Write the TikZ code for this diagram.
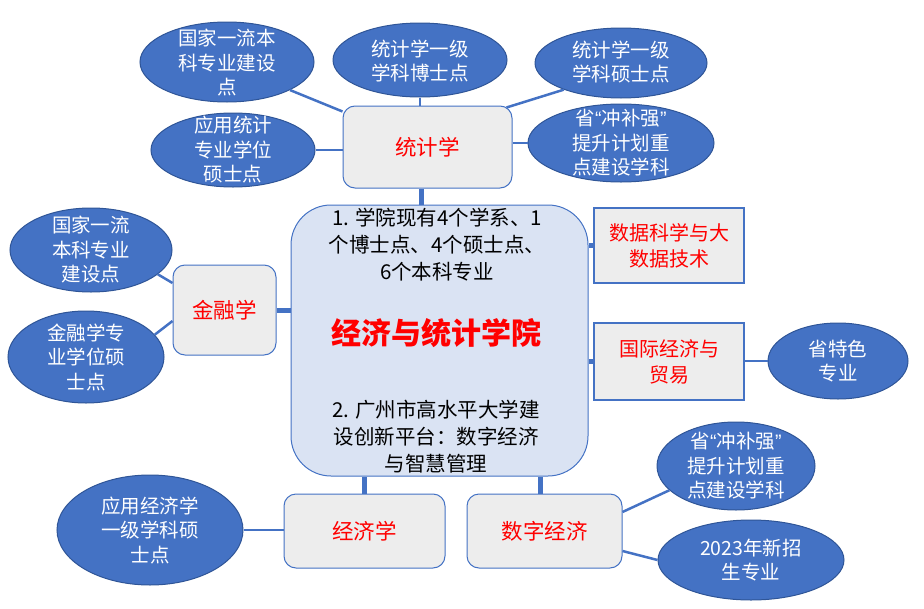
\documentclass[tikz,border=0pt]{standalone}
\usepackage{fontspec}
\setmainfont{Noto Sans CJK SC}
\newfontfamily\qf{Liberation Sans}
\usetikzlibrary{shapes.geometric,calc}
\definecolor{ublue}{HTML}{4472C4}
\definecolor{ublued}{HTML}{2F5597}
\definecolor{boxgray}{HTML}{EDEDED}
\definecolor{cfill}{HTML}{DAE3F3}
\definecolor{ured}{HTML}{FF0000}
\newcommand{\myLq}{{\qf “}}
\newcommand{\myRq}{{\qf ”}}
\tikzset{
  ell/.style={ellipse, draw=ublued, line width=1pt, fill=ublue, inner sep=0pt},
  elltext/.style={text=white, align=center, font=\fontsize{19.5}{24.5}\selectfont, inner sep=0pt},
  rbox/.style={rectangle, rounded corners=12pt, draw=ublue, line width=1pt, fill=boxgray, inner sep=0pt, text=ured, align=center, font=\fontsize{21.5}{27}\selectfont},
  sbox/.style={rectangle, draw=ublue, line width=1.5pt, fill=boxgray, inner sep=0pt, text=ured, align=center, font=\fontsize{20}{26}\selectfont},
  thickc/.style={draw=ublue, line width=5pt},
  thinc/.style={draw=ublue, line width=2.5pt},
}
\begin{document}
\begin{tikzpicture}[x=1pt,y=-1pt]
\useasboundingbox (0,0) rectangle (924,608);
\node[rectangle, rounded corners=40pt, draw=ublue, line width=1pt, fill=cfill, minimum width=297pt, minimum height=271pt] (c) at (439.5,340.5) {};
\node[rbox, minimum width=169pt, minimum height=82pt] (tj) at (427.5,147) {统计学};
\node[rbox, minimum width=103pt, minimum height=90pt] (jr) at (224.5,310) {金融学};
\node[rbox, minimum width=161pt, minimum height=74pt] (jj) at (364.5,531) {经济学};
\node[rbox, minimum width=155pt, minimum height=74pt] (sz) at (544.5,531) {数字经济};
\node[sbox, minimum width=150pt, minimum height=75pt] (sj) at (669,245.5) {数据科学与大\\数据技术};
\node[sbox, minimum width=150pt, minimum height=77pt] (gj) at (669,361.5) {国际经济与\\贸易};

% center texts
\node[align=center, inner sep=0pt, font=\fontsize{20.5}{27}\selectfont] (t1) at (437,245) {1. 学院现有4个学系、1\\个博士点、4个硕士点、\\6个本科专业};
\node[inner sep=0pt, text=ured, font=\fontsize{30}{32}\selectfont\bfseries] (t0) at (436,333) {经济与统计学院};
\node[align=center, inner sep=0pt, font=\fontsize{20.5}{27}\selectfont] (t2) at (436,437) {2. 广州市高水平大学建\\设创新平台：数字经济\\与智慧管理};

% ellipses
\node[ell, minimum width=174pt, minimum height=80pt] (e1) at (227,62) {};
\node[elltext] at (227,63) {国家一流本\\科专业建设\\点};
\node[ell, minimum width=174pt, minimum height=74pt] (e2) at (420,60) {};
\node[elltext] at (420,61) {统计学一级\\学科博士点};
\node[ell, minimum width=172pt, minimum height=70pt] (e3) at (621,63) {};
\node[elltext] at (621,62) {统计学一级\\学科硕士点};
\node[ell, minimum width=186pt, minimum height=78pt] (e4) at (621,143) {};
\node[elltext] at (621,143) {省\myLq 冲补强\myRq\\提升计划重\\点建设学科};
\node[ell, minimum width=164pt, minimum height=74pt] (e5) at (233,150) {};
\node[elltext] at (233,150) {应用统计\\专业学位\\硕士点};
\node[ell, minimum width=162pt, minimum height=84pt] (f1) at (91,250) {};
\node[elltext] at (91,250) {国家一流\\本科专业\\建设点};
\node[ell, minimum width=156pt, minimum height=92pt] (f2) at (86,357) {};
\node[elltext] at (86,357) {金融学专\\业学位硕\\士点};
\node[ell, minimum width=140pt, minimum height=76pt] (h1) at (838,361) {};
\node[elltext] at (838,361) {省特色\\专业};
\node[ell, minimum width=158pt, minimum height=88pt] (k1) at (736,466) {};
\node[elltext] at (736,466) {省\myLq 冲补强\myRq\\提升计划重\\点建设学科};
\node[ell, minimum width=186pt, minimum height=80pt] (k2) at (751,560) {};
\node[elltext] at (751,560) {2023年新招\\生专业};
\node[ell, minimum width=186pt, minimum height=110pt] (m1) at (150,530) {};
\node[elltext] at (150,530) {应用经济学\\一级学科硕\\士点};

% thick connectors
\draw[thickc] ([xshift=-6pt]tj.south) -- ([xshift=-6pt]tj.south |- c.north);
\draw[thickc] (jr.east) -- (jr.east -| c.west);
\draw[thickc] (c.east |- sj.west) -- (sj.west);
\draw[thickc] (c.east |- gj.west) -- (gj.west);
\draw[thickc] (jj.north) -- (jj.north |- c.south);
\draw[thickc] ([xshift=-4pt]sz.north) -- ([xshift=-4pt]sz.north |- c.south);

% thin connectors
\draw[thinc] (e1.-24) -- ($(tj.north west)+(0,6)$);
\draw[thinc] (e2.south) -- (e2.south |- tj.north);
\draw[thinc] (e3.205) -- ($(tj.north east)+(-6,2)$);
\draw[thinc] (e4.west) -- (e4.west -| tj.east);
\draw[thinc] (e5.east) -- (e5.east -| tj.west);
\draw[thinc] (f1.-20) -- ($(jr.west)+(0,-27)$);
\draw[thinc] (f2.18) -- ($(jr.west)+(0,11)$);
\draw[thinc] (h1.west) -- (h1.west -| gj.east);
\draw[thinc] (k1.200) -- ($(sz.east)+(0,-19)$);
\draw[thinc] (k2.west) -- ($(sz.east)+(0,20)$);
\draw[thinc] (m1.east) -- (m1.east -| jj.west);
\end{tikzpicture}
\end{document}
